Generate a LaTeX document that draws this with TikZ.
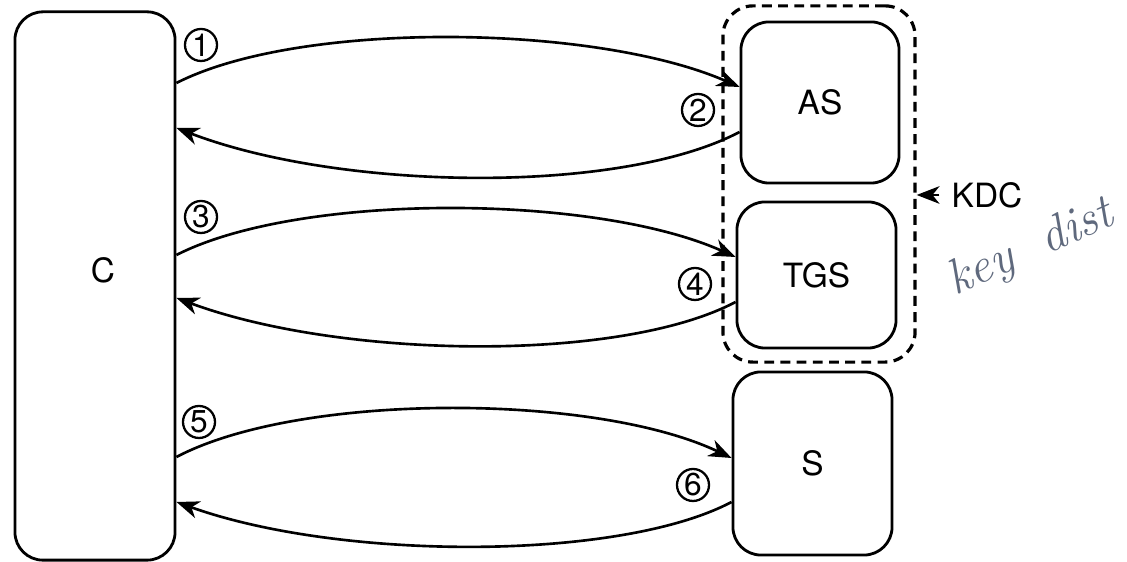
\documentclass[tikz,border=0pt]{standalone}
\usepackage{fontspec}
\setsansfont{TeX Gyre Heros}
\usetikzlibrary{arrows.meta}
\definecolor{handink}{RGB}{95,105,125}
\begin{document}
\begin{tikzpicture}[x=0.01cm,y=-0.01cm,
  lab/.style={font=\sffamily\fontsize{9.5}{10}\selectfont},
  box/.style={draw, line width=0.8pt, rounded corners=0.28cm, inner sep=0pt, lab},
  msg/.style={line width=0.75pt, -{Stealth[length=6.5pt,width=5pt,inset=2pt]}},
  num/.style={circle, draw, line width=0.65pt, minimum size=0.32cm, inner sep=0pt, font=\sffamily\fontsize{9}{9}\selectfont},
  kdcbox/.style={draw, dash pattern=on 2.8pt off 1.8pt, line width=0.9pt, rounded corners=0.3cm, inner sep=0pt},
  hand/.style={text=handink, inner sep=0pt, rotate=24, font=\itshape\fontsize{14}{14}\selectfont},
]
\useasboundingbox (0,0) rectangle (1127,562);
\fill[white] (0,0) rectangle (1127,562);

\node[box, minimum width=1.6cm, minimum height=5.48cm] (C) at (95,286) {};
\node[lab] (Clab) at (103,270) {C};
\node[box, minimum width=1.58cm, minimum height=1.61cm] (AS) at (820,102.5) {AS};
\node[box, minimum width=1.59cm, minimum height=1.46cm] (TGS) at (816.5,275) {TGS};
\node[box, minimum width=1.59cm, minimum height=1.83cm] (S) at (812.5,463.5) {S};
\node[kdcbox, minimum width=1.92cm, minimum height=3.56cm] (KDC) at (819,184) {};
\node[lab] (KDClab) at (987,195) {KDC};
\draw[msg] (KDClab.west) -- (KDC.east |- KDClab.west);

\draw[msg] (C.east |- 0,83) .. controls (300,20) and (595,24) .. (AS.west |- 0,87);
\draw[msg] (AS.west |- 0,132) .. controls (620,195) and (341,191) .. (C.east |- 0,128);
\draw[msg] (C.east |- 0,255) .. controls (300,192) and (595,194) .. (TGS.west |- 0,257);
\draw[msg] (TGS.west |- 0,302) .. controls (620,363) and (341,359) .. (C.east |- 0,298);
\draw[msg] (C.east |- 0,457) .. controls (300,392) and (595,393) .. (S.west |- 0,458);
\draw[msg] (S.west |- 0,502) .. controls (620,561) and (341,561) .. (C.east |- 0,502);

\node[num] (n1) at (201,45) {1};
\node[num] (n2) at (698,110) {2};
\node[num] (n3) at (201,217) {3};
\node[num] (n4) at (695,284) {4};
\node[num] (n5) at (199,422) {5};
\node[num] (n6) at (693,485) {6};

\node[hand, anchor=base west] (hw) at (955,296) {key\hspace{0.33cm}dist};
\end{tikzpicture}
\end{document}
